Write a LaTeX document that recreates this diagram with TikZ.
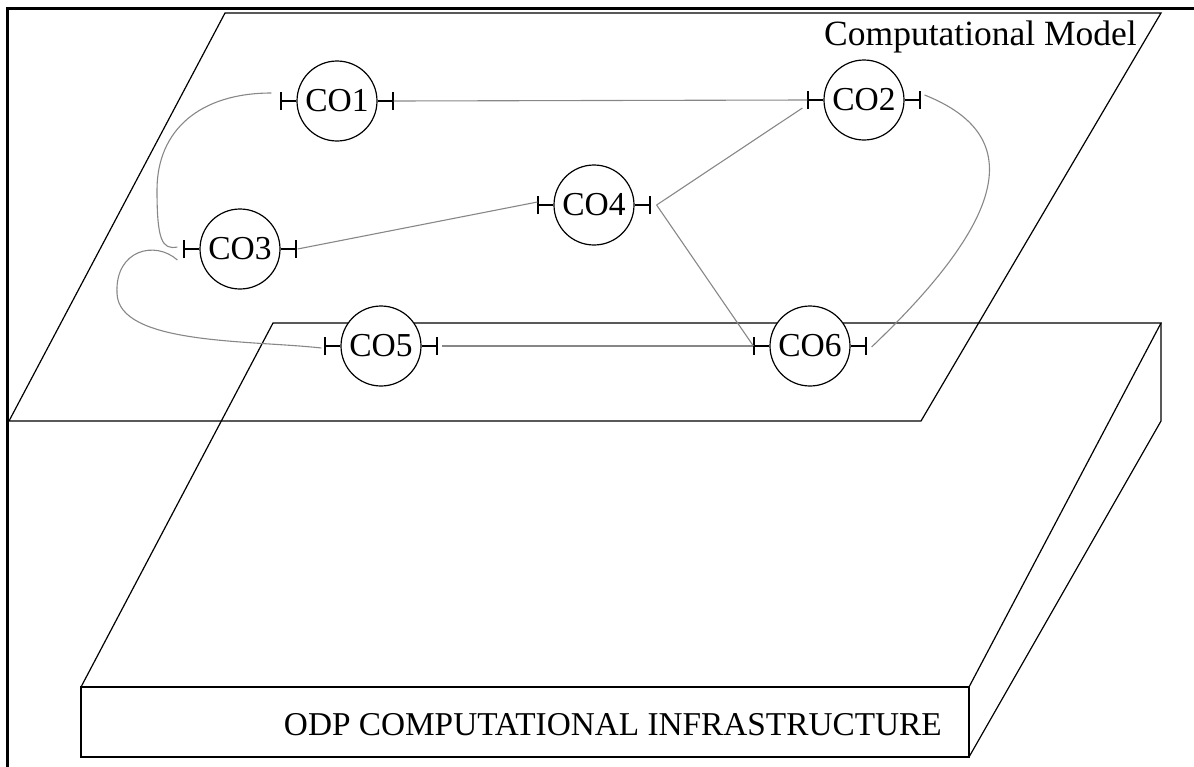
\documentclass[tikz,border=0pt]{standalone}
\usepackage{fontspec}
\setmainfont{Liberation Serif}
\usetikzlibrary{arrows.meta}
\definecolor{conngray}{RGB}{135,135,135}
\tikzset{
  edge/.style={line width=1.2pt, line join=miter},
  conn/.style={line width=1.1pt, draw=conngray},
  co/.style={circle, draw, line width=1.2pt, fill=white, minimum size=80pt, inner sep=0pt,
    font=\fontsize{33.5}{38}\selectfont},
  stub/.style={line width=1.2pt, {Bar[width=18pt, line width=1.2pt]}-},
  lbl/.style={inner sep=0pt}
}
\begin{document}
\begin{tikzpicture}[x=1pt, y=-1pt]
\path[use as bounding box] (0,0) rectangle (1194,766);
% frame
\draw[line width=3.6pt, line join=miter] (7.3,780) -- (7.3,8.3) -- (1210,8.3);
% computational model plane
\draw[edge] (225,13) -- (1161,13) -- (921,421) -- (9,421) -- cycle;
\node[lbl, anchor=base east, font=\fontsize{35.5}{40}\selectfont] (cmlabel) at (1137,45) {Computational Model};
% infrastructure box
\draw[edge] (273,323) -- (1161,323) -- (969,687) -- (81,687) -- cycle;
\draw[edge] (81,687) rectangle (969,757);
\draw[edge] (1161,323) -- (1161,421) -- (969,757);
\node[lbl, anchor=base east, font=\fontsize{33.3}{38}\selectfont] (odplabel) at (942,735) {ODP COMPUTATIONAL INFRASTRUCTURE};
% objects
\node[co] (co1) at (337,101) {CO1};
\node[co] (co2) at (864,100) {CO2};
\node[co] (co3) at (240,249) {CO3};
\node[co] (co4) at (594,205) {CO4};
\node[co] (co5) at (381,346) {CO5};
\node[co] (co6) at (810,346) {CO6};
% ports
\foreach \n in {co1,co2,co3,co4,co5,co6}{
  \path (\n.west) ++(-16,0) coordinate (\n W);
  \path (\n.east) ++(16,0) coordinate (\n E);
  \draw[stub] (\n W) -- (\n.west);
  \draw[stub] (\n E) -- (\n.east);
}
% connectors
\draw[conn] (co1E) -- (co2W);
\draw[conn] ([shift={(-9,-8)}]co1W) .. controls (200,93) and (157,130) .. (157,190)
  .. controls (157,240) and (162,250) .. ([shift={(-6,-2)}]co3W);
\draw[conn] ([shift={(-6,11)}]co3W) .. controls (155,240) and (115,250) .. (117,293)
  .. controls (118,345) and (250,340) .. ([shift={(-3,2)}]co5W);
\draw[conn] ([xshift=1pt]co3E) -- ([shift={(0,-3)}]co4W);
\draw[conn] ([xshift=6pt]co4E) -- ([shift={(-5,8)}]co2W);
\draw[conn] ([xshift=6pt]co4E) -- (co6W);
\draw[conn] ([xshift=4pt]co5E) -- (co6W);
\draw[conn] ([shift={(4,-5)}]co2E) .. controls (1025,135) and (1010,215) .. ([shift={(5,1)}]co6E);
\end{tikzpicture}
\end{document}
